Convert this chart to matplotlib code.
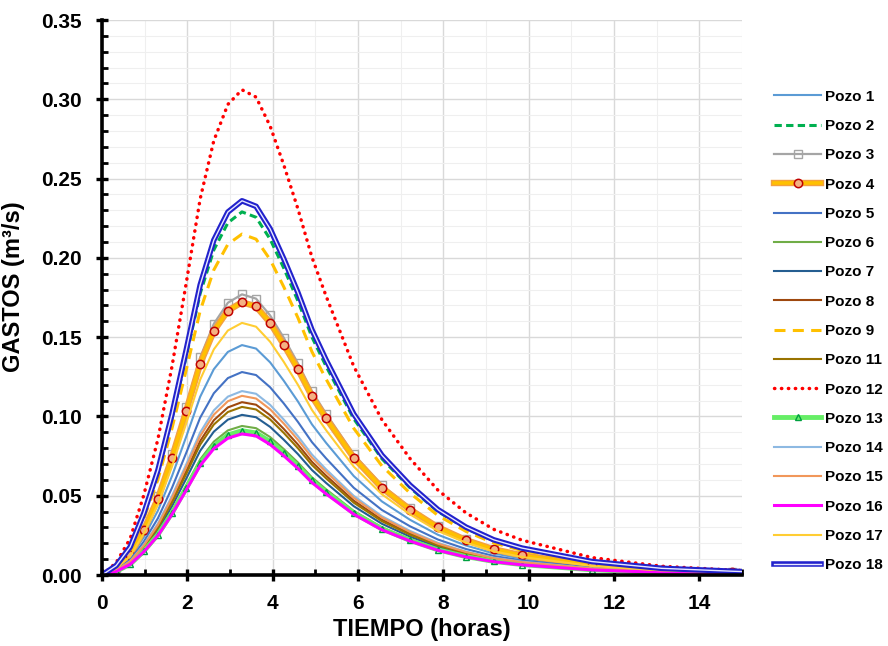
import matplotlib
matplotlib.use("Agg")
import matplotlib.pyplot as plt
import matplotlib.patheffects as pe
from matplotlib.ticker import MultipleLocator, FormatStrFormatter
from matplotlib.legend_handler import HandlerTuple

plt.rcParams["font.family"] = ["Liberation Sans", "DejaVu Sans"]
plt.rcParams["font.weight"] = "bold"

# ---------------- DATA ----------------
tiempo = [0, 0.33, 0.66, 0.98, 1.31, 1.64, 1.97, 2.30, 2.62, 2.95, 3.28, 3.61, 3.94, 4.26,
          4.59, 4.92, 5.25, 5.90, 6.56, 7.22, 7.87, 8.53, 9.18, 9.84, 11.48, 13.12, 14.76, 16.40]

pozo_1 = [0, .0036, .0109, .0239, .0406, .0624, .0870, .1124, .1298, .1407, .1450, .1428, .1341, .1225,
          .1095, .0950, .0834, .0624, .0464, .0348, .0254, .0186, .0136, .0104, .0052, .0026, .0015, .0006]
pozo_2 = [0, .0057, .0172, .0378, .0641, .0985, .1374, .1775, .2050, .2221, .2290, .2256, .2118, .1935,
          .1729, .1500, .1317, .0985, .0733, .0550, .0401, .0293, .0215, .0165, .0082, .0041, .0023, .0009]
pozo_3 = [0, .0044, .0133, .0292, .0496, .0761, .1062, .1372, .1584, .1717, .1770, .1743, .1637, .1496,
          .1336, .1159, .1018, .0761, .0566, .0425, .0310, .0227, .0166, .0127, .0064, .0032, .0018, .0007]
pozo_4 = [0, .0043, .0129, .0284, .0482, .0740, .1032, .1333, .1539, .1668, .1720, .1694, .1591, .1453,
          .1299, .1127, .0989, .0740, .0550, .0413, .0301, .0220, .0162, .0124, .0062, .0031, .0017, .0007]
pozo_5 = [0, .0032, .0096, .0211, .0358, .0550, .0768, .0992, .1146, .1242, .1280, .1261, .1184, .1082,
          .0966, .0838, .0736, .0550, .0410, .0307, .0224, .0164, .0120, .0092, .0046, .0023, .0013, .0005]
pozo_6 = [0, .0024, .0071, .0155, .0263, .0404, .0564, .0729, .0841, .0912, .0940, .0926, .0870, .0794,
          .0710, .0616, .0541, .0404, .0301, .0226, .0165, .0120, .0088, .0068, .0034, .0017, .0009, .0004]
pozo_7 = [0, .0025, .0076, .0167, .0283, .0434, .0606, .0783, .0904, .0980, .1010, .0995, .0934, .0853,
          .0763, .0662, .0581, .0434, .0323, .0242, .0177, .0129, .0095, .0073, .0036, .0018, .0010, .0004]
pozo_8 = [0, .0027, .0082, .0180, .0305, .0469, .0654, .0845, .0976, .1057, .1090, .1074, .1008, .0921,
          .0823, .0714, .0627, .0469, .0349, .0262, .0191, .0140, .0102, .0078, .0039, .0020, .0011, .0004]
pozo_9 = [0, .0054, .0161, .0355, .0602, .0925, .1290, .1666, .1924, .2086, .2150, .2118, .1989, .1817,
          .1623, .1408, .1236, .0925, .0688, .0516, .0376, .0275, .0202, .0155, .0077, .0039, .0022, .0009]
pozo_11 = [0, .0027, .0080, .0175, .0297, .0456, .0636, .0822, .0949, .1028, .1060, .1044, .0981, .0896,
           .0800, .0694, .0610, .0456, .0339, .0254, .0186, .0136, .0100, .0076, .0038, .0019, .0011, .0004]
pozo_12 = [0, .0077, .0230, .0505, .0857, .1316, .1836, .2372, .2739, .2968, .3060, .3014, .2831, .2586,
           .2310, .2004, .1760, .1316, .0979, .0734, .0536, .0392, .0288, .0220, .0110, .0055, .0031, .0012]
pozo_13 = [0, .0023, .0068, .0150, .0255, .0391, .0546, .0705, .0814, .0883, .0910, .0896, .0842, .0769,
           .0687, .0596, .0523, .0391, .0291, .0218, .0159, .0116, .0086, .0066, .0033, .0016, .0009, .0004]
pozo_14 = [0, .0029, .0087, .0191, .0325, .0499, .0696, .0899, .1038, .1125, .1160, .1143, .1073, .0980,
           .0876, .0760, .0667, .0499, .0371, .0278, .0203, .0148, .0109, .0084, .0042, .0021, .0012, .0005]
pozo_15 = [0, .0028, .0085, .0186, .0316, .0486, .0678, .0876, .1011, .1096, .1130, .1113, .1045, .0955,
           .0853, .0740, .0650, .0486, .0362, .0271, .0198, .0145, .0106, .0081, .0041, .0020, .0011, .0005]
pozo_16 = [0, .0022, .0067, .0147, .0249, .0383, .0534, .0690, .0797, .0863, .0890, .0877, .0823, .0752,
           .0672, .0583, .0512, .0383, .0285, .0214, .0156, .0114, .0084, .0064, .0032, .0016, .0009, .0004]
pozo_17 = [0, .0040, .0119, .0262, .0445, .0684, .0954, .1232, .1423, .1542, .1590, .1566, .1471, .1344,
           .1200, .1041, .0914, .0684, .0509, .0382, .0278, .0204, .0149, .0114, .0057, .0029, .0016, .0006]
pozo_18 = [0, .0059, .0177, .0389, .0661, .1015, .1416, .1829, .2112, .2289, .2360, .2325, .2183, .1994,
           .1782, .1546, .1357, .1015, .0755, .0566, .0413, .0302, .0222, .0170, .0085, .0042, .0024, .0009]
# -------------------------------------------------------------

fig = plt.figure(figsize=(8.88, 6.46), dpi=100)
ax = fig.add_axes([0.1149, 0.1099, 0.7207, 0.8591])

handles = []
labels = []

def add(y, label, **kw):
    ln, = ax.plot(tiempo, y, **kw)
    handles.append(ln)
    labels.append(label)
    return ln

add(pozo_1, "Pozo 1", color="#5B9BD5", lw=1.5)
add(pozo_2, "Pozo 2", color="#00B050", lw=2.2, linestyle=(0, (2.4, 1.4)))
add(pozo_3, "Pozo 3", color="#A5A5A5", lw=1.6, marker="s", ms=5.5, mfc="none", mec="#A5A5A5", mew=1.0)

# Pozo 4: gold line with orange outline + circle markers
ln4, = ax.plot(tiempo, pozo_4, color="#FFC000", lw=2.6,
               path_effects=[pe.Stroke(linewidth=4.6, foreground="#F4A040"), pe.Normal()])
mk4, = ax.plot(tiempo, pozo_4, linestyle="none", marker="o", ms=6, mfc="#F4B183",
               mec="#C00000", mew=1.1)
handles.append((ln4, mk4))
labels.append("Pozo 4")

add(pozo_5, "Pozo 5", color="#4472C4", lw=1.5)
add(pozo_6, "Pozo 6", color="#70AD47", lw=1.5)
add(pozo_7, "Pozo 7", color="#255E91", lw=1.5)
add(pozo_8, "Pozo 8", color="#9E480E", lw=1.5)
add(pozo_9, "Pozo 9", color="#FFC000", lw=2.2, linestyle=(0, (3.6, 2.4)))
add(pozo_11, "Pozo 11", color="#997300", lw=1.5)
add(pozo_12, "Pozo 12", color="#FF0000", lw=2.5, linestyle=(0, (0.1, 1.9)),
    dash_capstyle="round")
add(pozo_13, "Pozo 13", color="#66EE66", lw=3.5, marker="^", ms=4.5, mfc="none",
    mec="#00A040", mew=1.0)
add(pozo_14, "Pozo 14", color="#8DB9E2", lw=1.5)
add(pozo_15, "Pozo 15", color="#F1975A", lw=1.5)
add(pozo_16, "Pozo 16", color="#FF00FF", lw=2.2)
add(pozo_17, "Pozo 17", color="#FFCD33", lw=1.5)
add(pozo_18, "Pozo 18", color="#E8E8FF", lw=1.0,
    path_effects=[pe.Stroke(linewidth=4.0, foreground="#2222CC"), pe.Normal()])

ax.set_xlim(0, 15)
ax.set_ylim(0, 0.35)
ax.xaxis.set_major_locator(MultipleLocator(2))
ax.xaxis.set_minor_locator(MultipleLocator(1))
ax.yaxis.set_major_locator(MultipleLocator(0.05))
ax.yaxis.set_minor_locator(MultipleLocator(0.01))
ax.yaxis.set_major_formatter(FormatStrFormatter("%.2f"))

ax.grid(which="major", color="#D9D9D9", lw=1.0)
ax.grid(which="minor", color="#EFEFEF", lw=0.8)
ax.set_axisbelow(True)

for s in ["top", "right"]:
    ax.spines[s].set_visible(False)
for s in ["left", "bottom"]:
    ax.spines[s].set_linewidth(2.6)
    ax.spines[s].set_color("black")

ax.tick_params(which="major", direction="inout", length=9, width=2.4, labelsize=15)
ax.tick_params(axis="y", which="major", pad=10)
ax.tick_params(axis="x", which="major", pad=9)
ax.tick_params(which="minor", direction="in", length=4.5, width=2.0)
for t in ax.get_xticklabels() + ax.get_yticklabels():
    t.set_fontweight("bold")

ax.set_xlabel("TIEMPO (horas)", fontsize=17, fontweight="bold", labelpad=4)
ax.set_ylabel("GASTOS (m³/s)", fontsize=17, fontweight="bold")
ax.yaxis.set_label_coords(-0.12, 0.52)

fig.legend(handles, labels, loc="center left", bbox_to_anchor=(0.872, 0.4876),
           frameon=False, prop={"weight": "bold", "size": 11}, handlelength=3.05,
           handletextpad=0.28, labelspacing=1.0, borderpad=0, borderaxespad=0,
           handler_map={tuple: HandlerTuple(ndivide=1)})

fig.savefig("out.png", dpi=100)
